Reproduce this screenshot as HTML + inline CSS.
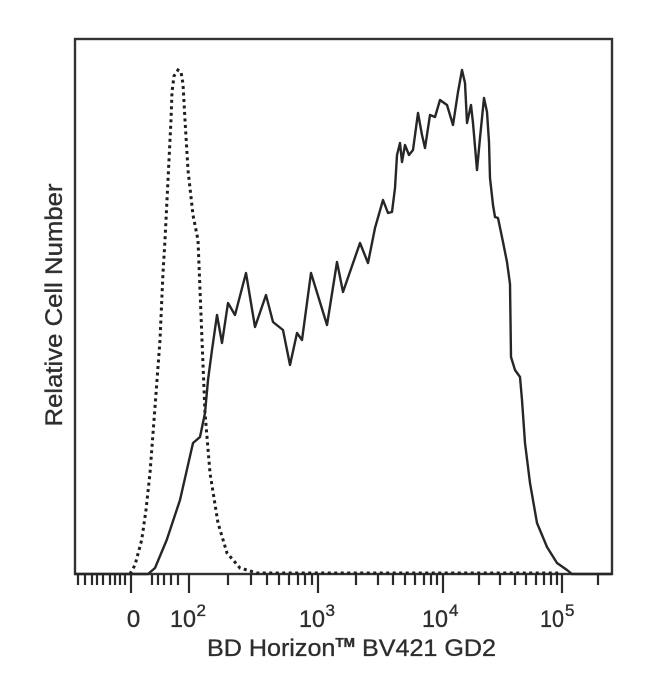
<!DOCTYPE html>
<html>
<head>
<meta charset="utf-8">
<style>
  html, body { margin: 0; padding: 0; background: #ffffff; }
  svg { display: block; }
  text { font-family: "Liberation Sans", Arial, sans-serif; fill: #2e2e2e; stroke: #2e2e2e; stroke-width: 0.35; }
</style>
</head>
<body>
<svg width="650" height="693" viewBox="0 0 650 693" xmlns="http://www.w3.org/2000/svg">
  <rect x="0" y="0" width="650" height="693" fill="#ffffff"/>

  <!-- frame -->
  <rect x="75" y="39" width="537" height="535" fill="none" stroke="#333" stroke-width="2.4"/>

  <!-- ticks -->
  <g stroke="#2a2a2a" stroke-width="2.2" fill="none">
    <path d="M131 574V593 M189 574V593 M318 574V593 M443 574V593 M562 574V593"/>
    <path d="M78 574V585 M85 574V585 M92 574V585 M97 574V585 M103 574V585 M110 574V585 M115 574V585 M120 574V585 M125 574V585
             M152 574V585 M158 574V585 M164 574V585 M171 574V585 M178 574V585
             M228 574V585 M251 574V585 M267 574V585 M279 574V585 M289 574V585 M298 574V585 M305 574V585 M312 574V585
             M356 574V585 M378 574V585 M393 574V585 M405 574V585 M415 574V585 M424 574V585 M431 574V585 M437 574V585
             M479 574V585 M500 574V585 M515 574V585 M526 574V585 M536 574V585 M544 574V585 M551 574V585 M557 574V585
             M598 574V585"/>
  </g>

  <!-- dashed (control) histogram -->
  <path d="M130 574 L135 565 L141.7 540 L146 510 L150 473 L155 407 L160 340 L163 273 L165 240 L168 180 L171 120 L172 92 L174 76 L178 70 L181 72 L183 84 L185 120 L188 170 L193 215 L198 240 L202 340 L205 413 L210 473 L218 523 L227 553 L240 568 L257 573 L560 573"
        fill="none" stroke="#1e1e1e" stroke-width="3" stroke-dasharray="3 3.5"/>

  <!-- solid (stained) histogram -->
  <path d="M75 574 L148 574 L155 568 L166.7 540 L180 500 L193 443 L200 437 L205 413 L208 380 L212 350 L217 315 L222 343 L228 303 L235 315 L246 273 L255 327 L266 295 L273 322 L283 330 L290 365 L297 333 L302 340 L311 273 L327 325 L337 262 L343 292 L360 243 L368 263 L375 228 L383 200 L388 213 L392 212 L395 188 L397 155 L400 143 L402 162 L405 145 L409 155 L413 150 L418 113 L422 135 L425 148 L430 115 L435 117 L440 100 L447 105 L453 125 L458 92 L462 70 L465 83 L467 123 L471 105 L473 123 L477 170 L480 138 L484 98 L487 112 L489 142 L490 178 L493 205 L495 217 L498 218 L503 242 L507 262 L510 284 L511 357 L515 370 L520 377 L522 400 L525 443 L530 483 L537 523 L547 547 L557 563 L567 570 L572 574 L612 574"
        fill="none" stroke="#262626" stroke-width="2.4" stroke-linejoin="round"/>

  <!-- tick labels -->
  <g font-size="24">
    <text x="133.5" y="627" text-anchor="middle">0</text>

    <text x="170" y="627" textLength="26" lengthAdjust="spacingAndGlyphs">10</text>
    <text x="196.5" y="616" font-size="17">2</text>

    <text x="299" y="627" textLength="26" lengthAdjust="spacingAndGlyphs">10</text>
    <text x="325.5" y="616" font-size="17">3</text>

    <text x="422" y="627" textLength="26" lengthAdjust="spacingAndGlyphs">10</text>
    <text x="449" y="616" font-size="17">4</text>

    <text x="540" y="627" textLength="24" lengthAdjust="spacingAndGlyphs">10</text>
    <text x="565" y="616" font-size="17">5</text>
  </g>

  <!-- x axis label -->
  <text x="207" y="656" font-size="24" textLength="289" lengthAdjust="spacingAndGlyphs">BD Horizon<tspan font-size="13" dy="-9" font-weight="bold">TM</tspan><tspan dy="9"> BV421 GD2</tspan></text>

  <!-- y axis label -->
  <text transform="translate(62,305) rotate(-90)" x="0" y="0" font-size="24" text-anchor="middle" textLength="243" lengthAdjust="spacingAndGlyphs">Relative Cell Number</text>
</svg>
</body>
</html>
